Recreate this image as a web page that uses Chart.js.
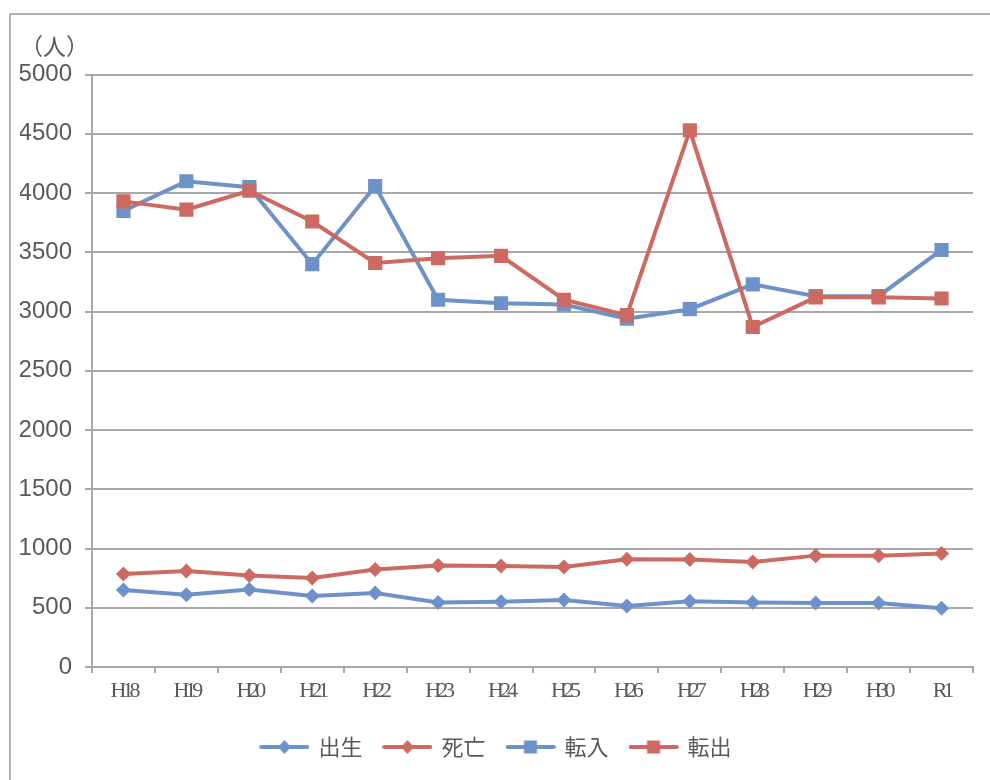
<!DOCTYPE html>
<html>
<head>
<meta charset="utf-8">
<script src="https://cdn.jsdelivr.net/npm/chart.js@4.4.0/dist/chart.umd.min.js"></script>
<style>
  html, body { margin: 0; padding: 0; background: #fff; }
  #wrap { width: 990px; height: 780px; position: relative; }
</style>
</head>
<body>
<div id="wrap"><canvas id="c" width="990" height="780"></canvas></div>
<script>
// 年度
const years = ['H18', 'H19', 'H20', 'H21', 'H22', 'H23', 'H24', 'H25', 'H26', 'H27', 'H28', 'H29', 'H30', 'R1'];
// 人口動態（人）
const births   = [650, 610, 655, 600, 625, 545, 550, 565, 515, 555, 545, 540, 540, 495];
const deaths   = [785, 810, 772, 752, 822, 857, 852, 845, 910, 908, 887, 940, 940, 957];
const movedIn  = [3850, 4100, 4050, 3400, 4060, 3100, 3070, 3060, 2940, 3020, 3230, 3130, 3130, 3520];
const movedOut = [3930, 3860, 4020, 3760, 3410, 3450, 3470, 3100, 2970, 4530, 2870, 3120, 3120, 3110];
// 縦軸
const yMin = 0, yMax = 5000, yStep = 500;
const unitLabel = '（人）';

const BLUE = '#6d92c9';
const RED = '#cc6a61';
const GRID = '#a8a8a8';
const TEXT = '#595959';

// 凡例用：線＋マーカーの小さな画像
function legendIcon(color, shape) {
  const cv = document.createElement('canvas');
  cv.width = 50; cv.height = 16;
  const g = cv.getContext('2d');
  g.strokeStyle = color; g.lineWidth = 4; g.lineCap = 'round';
  g.beginPath(); g.moveTo(2, 8); g.lineTo(48, 8); g.stroke();
  g.fillStyle = color;
  if (shape === 'diamond') {
    g.beginPath(); g.moveTo(25, 1); g.lineTo(31.5, 8); g.lineTo(25, 15); g.lineTo(18.5, 8); g.closePath(); g.fill();
  } else {
    g.fillRect(18.5, 1.5, 13, 13);
  }
  return cv;
}

const framePlugin = {
  id: 'frame',
  beforeDraw(chart) {
    const ctx = chart.ctx;
    ctx.save();
    ctx.fillStyle = '#fff';
    ctx.fillRect(0, 0, chart.width, chart.height);
    ctx.strokeStyle = '#b4b4b4';
    ctx.lineWidth = 2;
    ctx.strokeRect(10, 14, chart.width + 20, chart.height + 20);
    ctx.restore();
  }
};

// 横軸ラベルは字間を詰めて描く
const tightXLabels = {
  id: 'tightXLabels',
  afterLayout(chart) {
    const s = chart.scales.x;
    if (s._tight) return;
    const orig = s.drawLabels.bind(s);
    s.drawLabels = function (area) {
      const c = this.ctx;
      const prev = c.letterSpacing;
      c.letterSpacing = '-4px';
      orig(area);
      c.letterSpacing = prev || '0px';
    };
    s._tight = true;
  }
};

const common = { tension: 0, borderWidth: 4, pointBorderWidth: 0, fill: false };

new Chart(document.getElementById('c'), {
  type: 'line',
  data: {
    labels: years,
    datasets: [
      { ...common, label: '出生', data: births, borderColor: BLUE, backgroundColor: BLUE,
        pointStyle: 'rectRot', pointRadius: 7.5, order: 3, icon: legendIcon(BLUE, 'diamond') },
      { ...common, label: '死亡', data: deaths, borderColor: RED, backgroundColor: RED,
        pointStyle: 'rectRot', pointRadius: 7.5, order: 2, icon: legendIcon(RED, 'diamond') },
      { ...common, label: '転入', data: movedIn, borderColor: BLUE, backgroundColor: BLUE,
        pointStyle: 'rect', pointRadius: 10, order: 1, icon: legendIcon(BLUE, 'square') },
      { ...common, label: '転出', data: movedOut, borderColor: RED, backgroundColor: RED,
        pointStyle: 'rect', pointRadius: 10, order: 0, icon: legendIcon(RED, 'square') }
    ]
  },
  options: {
    responsive: false,
    animation: false,
    devicePixelRatio: 1,
    layout: { padding: { left: 20, right: 17, top: 32, bottom: 12 } },
    plugins: {
      tooltip: { enabled: false },
      title: {
        display: true,
        text: unitLabel,
        align: 'start',
        color: TEXT,
        font: { family: "'Noto Sans CJK JP', 'Noto Sans'", size: 23, weight: 'normal' },
        padding: { top: 0, bottom: 15 }
      },
      legend: {
        position: 'bottom',
        labels: {
          usePointStyle: true,
          pointStyleWidth: 46,
          padding: 22,
          color: TEXT,
          font: { family: "'Noto Sans CJK JP', 'Noto Sans'", size: 22 },
          sort: (a, b) => a.datasetIndex - b.datasetIndex,
          generateLabels(chart) {
            const items = Chart.defaults.plugins.legend.labels.generateLabels(chart);
            items.forEach(it => { it.pointStyle = chart.data.datasets[it.datasetIndex].icon; });
            return items;
          }
        }
      }
    },
    scales: {
      x: {
        offset: true,
        grid: { display: true, drawOnChartArea: false, drawTicks: true, tickLength: 6, color: GRID, lineWidth: 2, offset: true },
        border: { display: true, color: GRID, width: 2 },
        ticks: { color: TEXT, padding: 5, font: { family: "'Liberation Serif', 'DejaVu Serif'", size: 22 }, maxRotation: 0, autoSkip: false },
        afterFit(scale) { scale.height = 47; }
      },
      y: {
        min: yMin,
        max: yMax,
        grid: { color: GRID, lineWidth: 2, drawTicks: true, tickLength: 7 },
        border: { display: true, color: GRID, width: 2 },
        ticks: {
          stepSize: yStep, color: TEXT, padding: 13,
          font: { family: "'Liberation Sans', Arial", size: 24 },
          callback: v => String(v)
        },
        afterFit(scale) { scale.width = 72; }
      }
    }
  },
  plugins: [framePlugin, tightXLabels]
});
</script>
</body>
</html>
